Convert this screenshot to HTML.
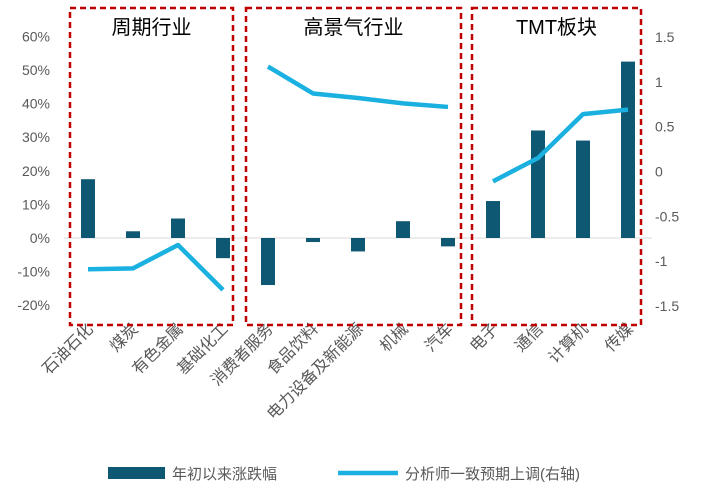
<!DOCTYPE html>
<html><head><meta charset="utf-8"><style>
body{margin:0;background:#fff;}
svg text{font-family:"Liberation Sans","Noto Sans CJK SC",sans-serif;}
</style></head><body>
<svg id="c" width="705" height="492" xmlns="http://www.w3.org/2000/svg"></svg>
<script>
const categories=["石油石化","煤炭","有色金属","基础化工","消费者服务","食品饮料","电力设备及新能源","机械","汽车","电子","通信","计算机","传媒"];
const barValues=[17.5,2,5.8,-6,-14,-1.2,-4,5,-2.5,11,32,29,52.5];
const lineValues=[-1.09,-1.08,-0.82,-1.32,1.17,0.87,0.82,0.76,0.72,-0.11,0.15,0.64,0.69];
const groups=[[0,3],[4,8],[9,12]];
const groupTitles=["周期行业","高景气行业","TMT板块"];
const leftTicks=[-20,-10,0,10,20,30,40,50,60];
const rightTicks=[-1.5,-1,-0.5,0,0.5,1,1.5];
const svg=document.getElementById('c');
const NS="http://www.w3.org/2000/svg";
function el(t,a,p){const e=document.createElementNS(NS,t);for(const k in a)e.setAttribute(k,a[k]);(p||svg).appendChild(e);return e;}
const yL=v=>238-v*3.36;
const yR=v=>171.5-v*89.67;
const xC=i=>88+i*45;
leftTicks.forEach(t=>{const e=el('text',{x:50,y:yL(t)+5,'text-anchor':'end','font-size':14,fill:'#595959'});e.textContent=t+'%';
});
rightTicks.forEach(t=>{const e=el('text',{x:655,y:yR(t)+5,'font-size':14,fill:'#595959'});e.textContent=t;
});
const ax=el('line',{x1:64,x2:652,y1:yL(0),y2:yL(0),stroke:'#d9d9d9','stroke-width':1});

barValues.forEach((v,i)=>{const r=el('rect',{x:xC(i)-7,width:14,y:Math.min(yL(v),yL(0)),height:Math.abs(yL(v)-yL(0)),fill:'#0e5873'});
});
groups.forEach((g,gi)=>{let d='';for(let i=g[0];i<=g[1];i++)d+=(i==g[0]?'M':'L')+xC(i)+','+yR(lineValues[i]);
const p=el('path',{d:d,fill:'none',stroke:'#1ab0e0','stroke-width':4.5,'stroke-linejoin':'round'});
});
categories.forEach((c,i)=>{const x=xC(i)+6,y=330;const t=el('text',{x:x,y:y,'text-anchor':'end','font-size':16,fill:'#595959',transform:`rotate(-45 ${x} ${y})`});t.textContent=c;
});
const boxes=[[70,233],[246,461],[472,641]];
boxes.forEach((b,i)=>{const r=el('rect',{x:b[0],y:8,width:b[1]-b[0],height:317,fill:'none',stroke:'#c00000','stroke-width':2.5,'stroke-dasharray':'6,4'});

const t=el('text',{x:(b[0]+b[1])/2,y:34,'text-anchor':'middle','font-size':20,fill:'#000','font-family':'"Liberation Serif","Noto Serif CJK SC",serif'});t.textContent=groupTitles[i];
});
const ls=el('rect',{x:108,y:467,width:57,height:12,fill:'#0e5873'});
const lt=el('text',{x:172,y:479,'font-size':15,fill:'#595959'});lt.textContent='年初以来涨跌幅';
const ll=el('line',{x1:338,x2:398,y1:473,y2:473,stroke:'#1ab0e0','stroke-width':4.5});
const lt2=el('text',{x:405,y:479,'font-size':15,fill:'#595959'});lt2.textContent='分析师一致预期上调(右轴)';
</script>
</body></html>
